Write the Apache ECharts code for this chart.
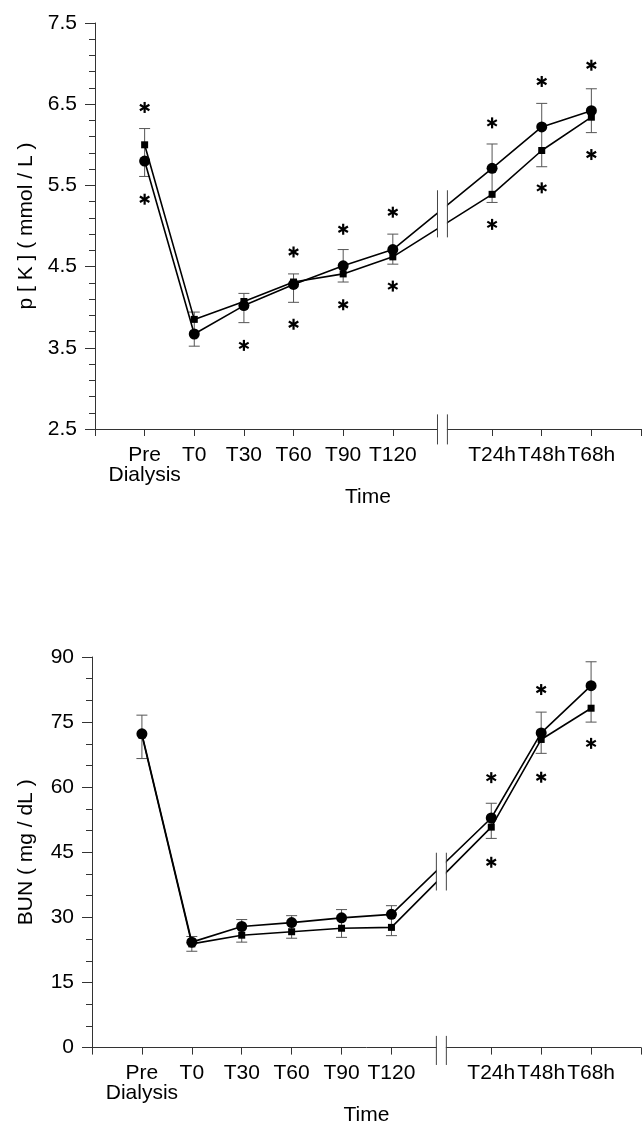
<!DOCTYPE html>
<html>
<head>
<meta charset="utf-8">
<script src="https://cdn.jsdelivr.net/npm/echarts@6/dist/echarts.min.js"></script>
<style>
html, body { margin: 0; padding: 0; background: #fff; }
#main { width: 644px; height: 1127px; }
</style>
</head>
<body>
<div id="main"></div>
<script>
// time points, slot 6 is the axis break
var categories = ['Pre\nDialysis', 'T0', 'T30', 'T60', 'T90', 'T120', '', 'T24h', 'T48h', 'T68h'];
var breakIndex = 6;

// p[K] (mmol/L)
var kCircle   = [5.80, 3.67, 4.02, 4.28, 4.51, 4.71, null, 5.71, 6.22, 6.42];
var kSquare   = [6.00, 3.85, 4.07, 4.31, 4.41, 4.62, null, 5.39, 5.93, 6.34];
var kErrHigh  = [6.20, 3.94, 4.17, 4.41, 4.71, 4.90, null, 6.01, 6.51, 6.69];
var kErrLow   = [5.61, 3.52, 3.81, 4.06, 4.31, 4.53, null, 5.29, 5.73, 6.15];
var kStarHigh = [6.46, null, null, 4.68, 4.96, 5.17, null, 6.27, 6.78, 6.98];
var kStarLow  = [5.33, null, 3.53, 3.79, 4.03, 4.26, null, 5.02, 5.47, 5.88];
var kTicks    = [2.5, 3.5, 4.5, 5.5, 6.5, 7.5];

// BUN (mg/dL)
var bunCircle   = [72.3, 24.3, 27.9, 28.8, 29.9, 30.7, null, 52.9, 72.5, 83.4];
var bunSquare   = [72.0, 23.9, 25.9, 26.7, 27.5, 27.7, null, 50.8, 71.0, 78.2];
var bunErrHigh  = [76.6, 25.6, 29.5, 30.4, 31.8, 32.7, null, 56.3, 77.3, 88.9];
var bunErrLow   = [66.6, 22.2, 24.3, 25.2, 25.4, 25.8, null, 48.2, 67.8, 75.0];
var bunStarHigh = [null, null, null, null, null, null, null, 62.2, 82.5, null];
var bunStarLow  = [null, null, null, null, null, null, null, 42.7, 62.3, 70.1];
var bunTicks    = [0, 15, 30, 45, 60, 75, 90];

var FONT = "'Liberation Sans', Arial, sans-serif";
var AXIS_COLOR = '#333';

function pts(arr) {
	var out = [];
	arr.forEach(function(v, i) { out.push([i, v]); });
	return out;
}
function errData(lo, hi) {
	var out = [];
	lo.forEach(function(v, i) { if (v != null) out.push([i, v, hi[i]]); });
	return out;
}
function starData(a, b) {
	var out = [];
	a.forEach(function(v, i) { if (v != null) out.push([i, v]); });
	b.forEach(function(v, i) { if (v != null) out.push([i, v]); });
	return out;
}

function errorBarItem(params, api) {
	var x = api.value(0);
	var lo = api.coord([x, api.value(1)]);
	var hi = api.coord([x, api.value(2)]);
	var w = 5.5;
	var st = { stroke: '#555', lineWidth: 1 };
	return { type: 'group', children: [
		{ type: 'line', shape: { x1: lo[0], y1: lo[1], x2: hi[0], y2: hi[1] }, style: st },
		{ type: 'line', shape: { x1: lo[0] - w, y1: lo[1], x2: lo[0] + w, y2: lo[1] }, style: st },
		{ type: 'line', shape: { x1: hi[0] - w, y1: hi[1], x2: hi[0] + w, y2: hi[1] }, style: st }
	]};
}

function starItem(params, api) {
	var p = api.coord([api.value(0), api.value(1)]);
	var r = 5.5, ch = [];
	[90, 30, 150].forEach(function(a) {
		var rad = a * Math.PI / 180;
		var dx = r * Math.cos(rad), dy = r * Math.sin(rad);
		ch.push({ type: 'line', shape: { x1: p[0] - dx, y1: p[1] - dy, x2: p[0] + dx, y2: p[1] + dy },
			style: { stroke: '#000', lineWidth: 2.2 } });
	});
	return { type: 'group', children: ch };
}

// the // break: white gap in lines and axis, two short strokes on the lines and on the axis
function breakItem(yMin, yMax, up, ax) {
	return function(params, api) {
		var x = api.value(0), d = 0.1;
		var a = api.coord([x - d, yMax]);
		var b = api.coord([x + d, yMin]);
		var ch = [{ type: 'rect', shape: { x: a[0] + 0.5, y: a[1], width: b[0] - a[0] - 1, height: b[1] - a[1] + 9 },
			style: { fill: '#fff' } }];
		[x - d, x + d].forEach(function(xx) {
			[up, ax].forEach(function(s) {
				var p1 = api.coord([xx, s[0]]), p2 = api.coord([xx, s[1]]);
				ch.push({ type: 'line', shape: { x1: p1[0], y1: p1[1], x2: p2[0], y2: p2[1] },
					style: { stroke: '#444', lineWidth: 1 } });
			});
		});
		return { type: 'group', children: ch };
	};
}

function xAxisOpt(gi) {
	return {
		gridIndex: gi, type: 'value', min: -1, max: 10, interval: 1,
		name: 'Time', nameLocation: 'middle', nameGap: 50,
		nameTextStyle: { fontFamily: FONT, fontSize: 21, color: '#000' },
		axisLine: { onZero: false, lineStyle: { color: AXIS_COLOR, width: 1 } },
		axisTick: { inside: false, length: 7, lineStyle: { color: AXIS_COLOR } },
		axisLabel: {
			margin: 16, fontFamily: FONT, fontSize: 21, color: '#000', lineHeight: 20,
			showMinLabel: true, showMaxLabel: true,
			formatter: function(v) { return categories[v] || ''; }
		},
		splitLine: { show: false }
	};
}

function yAxisOpt(gi, name, ticks, minorSplit, gap) {
	return {
		gridIndex: gi, type: 'value',
		min: ticks[0], max: ticks[ticks.length - 1], interval: ticks[1] - ticks[0],
		name: name, nameLocation: 'middle', nameRotate: 90, nameGap: gap,
		nameTextStyle: { fontFamily: FONT, fontSize: 21, color: '#000' },
		axisLine: { show: true, onZero: false, lineStyle: { color: AXIS_COLOR, width: 1 } },
		axisTick: { show: true, length: 10, lineStyle: { color: AXIS_COLOR } },
		minorTick: { show: true, splitNumber: minorSplit, length: 6, lineStyle: { color: AXIS_COLOR } },
		axisLabel: { margin: 18, fontFamily: FONT, fontSize: 21, color: '#000',
			formatter: function(v) { return ticks[0] % 1 ? v.toFixed(1) : String(v); } },
		splitLine: { show: false }
	};
}

function lineSeries(gi, data, symbol, size) {
	return {
		type: 'line', xAxisIndex: gi, yAxisIndex: gi, data: pts(data), connectNulls: true,
		symbol: symbol, symbolSize: size, showSymbol: true,
		lineStyle: { color: '#000', width: 1.6 },
		itemStyle: { color: '#000' }, z: 4
	};
}

function panelSeries(gi, circle, square, lo, hi, sHigh, sLow, yMin, yMax, up, ax) {
	return [
		{ type: 'custom', xAxisIndex: gi, yAxisIndex: gi, renderItem: errorBarItem,
			data: errData(lo, hi), encode: { x: 0, y: [1, 2] }, z: 3 },
		lineSeries(gi, square, 'rect', 7),
		lineSeries(gi, circle, 'circle', 11),
		{ type: 'custom', xAxisIndex: gi, yAxisIndex: gi, renderItem: starItem,
			data: starData(sHigh, sLow), encode: { x: 0, y: 1 }, z: 5 },
		{ type: 'custom', xAxisIndex: gi, yAxisIndex: gi, renderItem: breakItem(yMin, yMax, up, ax),
			data: [[breakIndex, yMin]], encode: { x: 0, y: 1 }, z: 10 }
	];
}

var myChart = echarts.init(document.getElementById('main'));
var option = {
	animation: false,
	backgroundColor: '#fff',
	textStyle: { fontFamily: FONT },
	grid: [
		{ left: 95, top: 23, width: 548, height: 406 },
		{ left: 92, top: 657, width: 551, height: 401 }
	],
	xAxis: [xAxisOpt(0), xAxisOpt(1)],
	yAxis: [
		yAxisOpt(0, 'p [ K ] ( mmol / L )', kTicks, 5, 58),
		yAxisOpt(1, 'BUN ( mg / dL )', bunTicks, 3, 55)
	],
	series: [].concat(
		panelSeries(0, kCircle, kSquare, kErrLow, kErrHigh, kStarHigh, kStarLow, 2.5, 7.5, [4.86, 5.44], [2.31, 2.68]),
		panelSeries(1, bunCircle, bunSquare, bunErrLow, bunErrHigh, bunStarHigh, bunStarLow, 0, 90, [36.2, 44.9], [-4.0, 2.7])
	)
};
myChart.setOption(option);
window.onresize = myChart.resize;
</script>
</body>
</html>
